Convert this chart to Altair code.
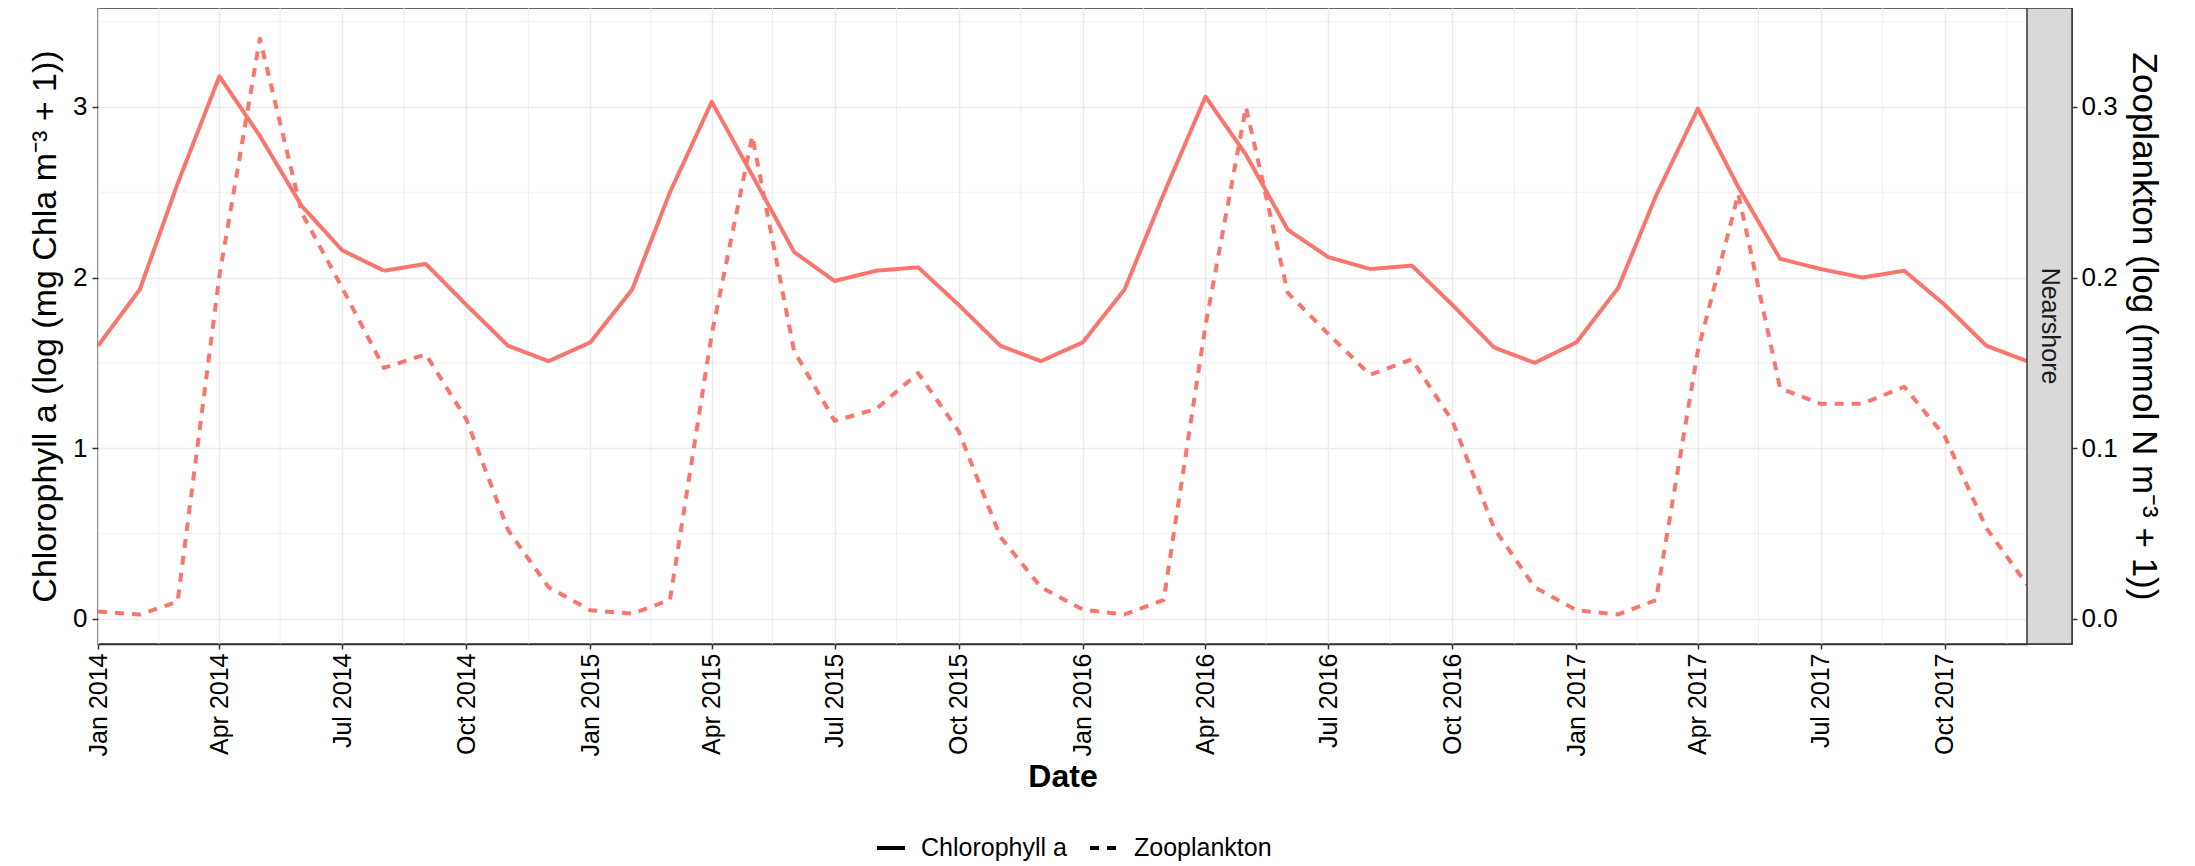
import altair as alt
import pandas as pd

# ---------------- data ----------------
years = [2014, 2015, 2016, 2017]
months = ["01", "02", "03", "04", "05", "06", "07", "08", "09", "10", "11", "12"]
dates = [f"{y}-{m}-01" for y in years for m in months]

# Chlorophyll a (log (mg Chla m-3 + 1)), monthly
chl = [
    1.60, 1.93, 2.55, 3.18, 2.83, 2.42, 2.16, 2.04, 2.08, 1.84, 1.60, 1.51,
    1.62, 1.93, 2.50, 3.03, 2.60, 2.15, 1.98, 2.04, 2.06, 1.84, 1.60, 1.51,
    1.62, 1.93, 2.49, 3.06, 2.72, 2.28, 2.12, 2.05, 2.07, 1.84, 1.59, 1.50,
    1.62, 1.94, 2.48, 2.99, 2.53, 2.11, 2.05, 2.00, 2.04, 1.84, 1.60, 1.51,
]
# Zooplankton (log (mmol N m-3 + 1)), monthly
zoo = [
    0.0042, 0.0025, 0.010, 0.201, 0.340, 0.238, 0.194, 0.147, 0.155, 0.117, 0.052, 0.0185,
    0.0050, 0.0030, 0.011, 0.167, 0.283, 0.157, 0.116, 0.123, 0.144, 0.110, 0.048, 0.0185,
    0.0054, 0.0025, 0.011, 0.172, 0.300, 0.191, 0.167, 0.143, 0.152, 0.116, 0.053, 0.0185,
    0.0050, 0.0025, 0.011, 0.157, 0.249, 0.135, 0.126, 0.126, 0.136, 0.107, 0.053, 0.0200,
]

series_names = ["Chlorophyll a", "Zooplankton"]
panel_label = ["Nearshore"]

x_tick_dates = [(y, m) for y in years for m in (1, 4, 7, 10)]
x_minor = [f"{y}-{md}" for y in years for md in ("02-15", "05-16", "08-16", "11-16")]
y_left_ticks = [0, 1, 2, 3]
y_right_ticks = [0.0, 0.1, 0.2, 0.3]
y_minor = [0.5, 1.5, 2.5, 3.5]

# ---------------- layout / style ----------------
W_PANEL = 1929
W_STRIP = 45
W = W_PANEL + W_STRIP
H = 636
FONT = "Liberation Sans"
LINE = "#F8766D"
GRID = "#EBEBEB"

df_chl = pd.DataFrame({"date": dates, "value": chl, "series": series_names[0]})
df_zoo = pd.DataFrame({"date": dates, "value": zoo, "series": series_names[1]})
df_xminor = pd.DataFrame({"date": x_minor})
df_yminor = pd.DataFrame({"value": y_minor})
df_strip = pd.DataFrame({"label": panel_label})


def dt(y, m, d=1):
    return alt.DateTime(year=y, month=m, date=d, utc=True)


x_enc = alt.X(
    "date:T",
    scale=alt.Scale(type="utc", domain=[dt(2014, 1), dt(2017, 12)], range=[0, W_PANEL], nice=False),
    axis=alt.Axis(
        values=[dt(y, m) for y, m in x_tick_dates],
        format="%b %Y",
        labelAngle=270,
        title="Date",
        grid=True,
        gridColor=GRID,
        gridWidth=1.6,
        tickSize=5,
        tickColor="#333333",
        tickWidth=1.5,
        domainColor="#333333",
        domainWidth=1.5,
        labelFontSize=25,
        labelPadding=4,
        titleFontSize=32,
        titleFontWeight="bold",
        titlePadding=6,
    ),
)

y_left = alt.Y(
    "value:Q",
    scale=alt.Scale(domain=[-0.148, 3.58], nice=False, zero=False),
    axis=alt.Axis(
        values=y_left_ticks,
        title="Chlorophyll a (log (mg Chla m⁻³ + 1))",
        grid=True,
        gridColor=GRID,
        gridWidth=1.6,
        domain=False,
        tickSize=6,
        tickColor="#333333",
        tickWidth=1.5,
        labelFontSize=26,
        labelPadding=5,
        titleFontSize=34,
        titleFontWeight="normal",
        titlePadding=10,
    ),
)

y_right = alt.Y(
    "value:Q",
    scale=alt.Scale(domain=[-0.0148, 0.358], nice=False, zero=False),
    axis=alt.Axis(
        orient="right",
        values=y_right_ticks,
        format=".1f",
        title="Zooplankton (log (mmol N m⁻³ + 1))",
        grid=False,
        domain=False,
        tickSize=5,
        tickColor="#333333",
        tickWidth=1.5,
        labelFontSize=26,
        labelPadding=4,
        titleFontSize=35,
        titleFontWeight="normal",
        titleAngle=90,
        titlePadding=8,
    ),
)

dash = alt.StrokeDash(
    "series:N",
    scale=alt.Scale(domain=series_names, range=[[1, 0], [9, 8]]),
    legend=alt.Legend(
        title=None,
        orient="none",
        direction="horizontal",
        legendX=777,
        legendY=824,
        symbolType="stroke",
        symbolSize=784,
        symbolStrokeWidth=4,
        symbolStrokeColor="black",
        labelFontSize=25,
        labelColor="black",
        labelOffset=14,
        columnPadding=15,
        padding=0,
    ),
)

minor_x = alt.Chart(df_xminor).mark_rule(color=GRID, strokeWidth=0.8).encode(x=x_enc)
minor_y = alt.Chart(df_yminor).mark_rule(color=GRID, strokeWidth=0.8).encode(y=y_left)

chl_line = alt.Chart(df_chl).mark_line(color=LINE, strokeWidth=4, strokeJoin="round", strokeCap="butt").encode(
    x=x_enc, y=y_left, strokeDash=dash
)
zoo_line = alt.Chart(df_zoo).mark_line(color=LINE, strokeWidth=4, strokeJoin="round", strokeCap="butt").encode(
    x=x_enc, y=y_right, strokeDash=dash
)

strip_rect = alt.Chart(df_strip).mark_rect(fill="#D9D9D9", stroke="#333333", strokeWidth=1.5).encode(
    x=alt.value(W_PANEL), x2=alt.value(W), y=alt.value(0), y2=alt.value(H)
)
strip_text = alt.Chart(df_strip).mark_text(angle=90, fontSize=25, color="#1A1A1A", font=FONT).encode(
    text="label:N", x=alt.value(W_PANEL + W_STRIP / 2), y=alt.value(H / 2)
)

left = alt.layer(minor_x, minor_y, chl_line)
chart = (
    alt.layer(left, zoo_line, strip_rect, strip_text)
    .resolve_scale(y="independent")
    .properties(
        width=W,
        height=H,
        autosize=alt.AutoSizeParams(type="none"),
        padding={"left": 90, "top": 0, "right": 115, "bottom": 222},
    )
    .configure(font=FONT)
    .configure_view(stroke="#333333", strokeWidth=1.5)
    .configure_axis(labelFont=FONT, titleFont=FONT, labelColor="black", titleColor="black")
    .configure_legend(labelFont=FONT)
)

chart.save("out.html", embed_options={"renderer": "svg", "actions": False})
